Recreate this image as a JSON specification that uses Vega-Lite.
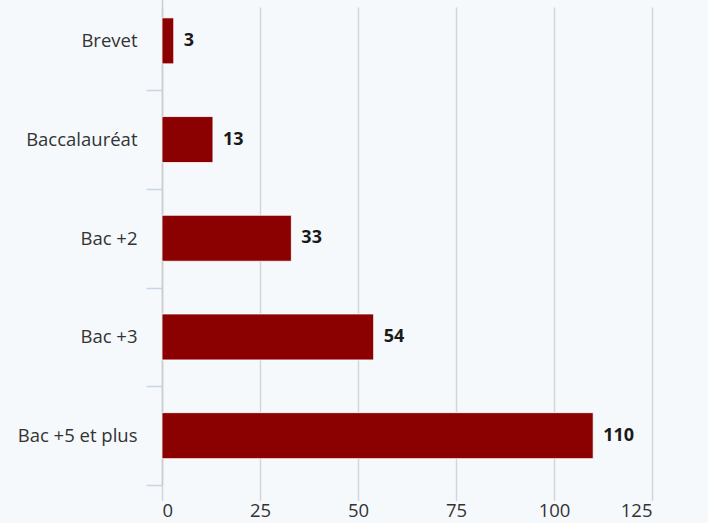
{
  "$schema": "https://vega.github.io/schema/vega-lite/v6.json",
  "width": 490,
  "height": 478,
  "autosize": {"type": "none"},
  "padding": {"left": 162, "top": 7, "right": 56, "bottom": 38},
  "background": "#f6f9fc",
  "config": {
    "view": {"stroke": null},
    "font": "Open Sans"
  },
  "data": {
    "values": [
      {"niveau": "Brevet", "valeur": 3},
      {"niveau": "Baccalauréat", "valeur": 13},
      {"niveau": "Bac +2", "valeur": 33},
      {"niveau": "Bac +3", "valeur": 54},
      {"niveau": "Bac +5 et plus", "valeur": 110}
    ]
  },
  "encoding": {
    "y": {
      "field": "niveau",
      "type": "nominal",
      "sort": null,
      "scale": {"range": [-15.5, 478], "paddingInner": 0, "paddingOuter": 0},
      "axis": {
        "title": null,
        "tickBand": "extent",
        "tickSize": 16,
        "tickColor": "#c6d6e6",
        "tickWidth": 1.5,
        "domainColor": "#cccccc",
        "domainWidth": 1.5,
        "labelPadding": 9,
        "labelFontSize": 18.5,
        "labelColor": "#333333",
        "labelFont": "Open Sans"
      }
    },
    "x": {
      "field": "valeur",
      "type": "quantitative",
      "scale": {"domain": [0, 125], "nice": false},
      "axis": {
        "title": null,
        "values": [0, 25, 50, 75, 100, 125],
        "ticks": false,
        "domain": false,
        "gridColor": "#d2d6db",
        "gridWidth": 1.5,
        "labelPadding": 16,
        "labelFontSize": 18.5,
        "labelColor": "#333333",
        "labelFont": "Open Sans"
      }
    }
  },
  "layer": [
    {
      "mark": {"type": "bar", "color": "#8b0000", "stroke": "#ffffff", "strokeWidth": 1, "strokeOpacity": 0.8, "height": {"band": 0.466}}
    },
    {
      "mark": {"type": "text", "align": "left", "baseline": "middle", "dx": 10, "fontSize": 18, "fontWeight": "bold", "color": "#1a1a1a", "font": "Open Sans"},
      "encoding": {"text": {"field": "valeur", "type": "quantitative"}}
    }
  ]
}
